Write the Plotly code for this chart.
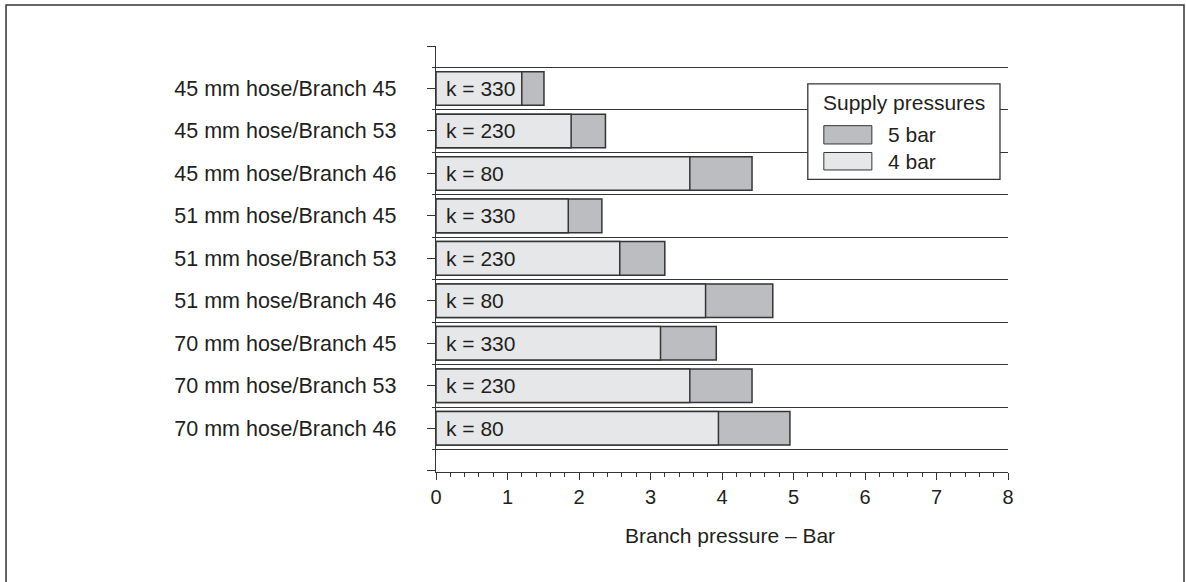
import plotly.graph_objects as go

categories = [
    "45 mm hose/Branch 45",
    "45 mm hose/Branch 53",
    "45 mm hose/Branch 46",
    "51 mm hose/Branch 45",
    "51 mm hose/Branch 53",
    "51 mm hose/Branch 46",
    "70 mm hose/Branch 45",
    "70 mm hose/Branch 53",
    "70 mm hose/Branch 46",
]
k_labels = ["k = 330", "k = 230", "k = 80", "k = 330", "k = 230", "k = 80",
            "k = 330", "k = 230", "k = 80"]
bar4 = [1.20, 1.89, 3.55, 1.85, 2.57, 3.77, 3.14, 3.55, 3.95]
bar5 = [1.51, 2.37, 4.42, 2.32, 3.20, 4.71, 3.92, 4.42, 4.95]
x_ticks = [0, 1, 2, 3, 4, 5, 6, 7, 8]
series_names = ["5 bar", "4 bar"]
x_title = "Branch pressure – Bar"

FONT = "Liberation Sans, Arial, sans-serif"
FS = 21
TXT = "#231f20"
EDGE = "#353535"
C5 = "#bcbdc0"
C4 = "#e6e7e8"

pos = list(range(len(categories)))

fig = go.Figure()
fig.add_trace(go.Bar(
    y=pos, x=bar5, orientation="h", name=series_names[0],
    marker=dict(color=C5, line=dict(color=EDGE, width=1.5)),
    width=0.79, showlegend=False, hoverinfo="x+name",
))
fig.add_trace(go.Bar(
    y=pos, x=bar4, orientation="h", name=series_names[1],
    marker=dict(color=C4, line=dict(color=EDGE, width=1.5)),
    width=0.79, showlegend=False, hoverinfo="x+name",
))

annotations = []
for p, lab in zip(pos, k_labels):
    annotations.append(dict(
        x=0, y=p, xref="x", yref="y", text=lab, showarrow=False,
        xanchor="left", yanchor="middle", xshift=8,
        font=dict(family=FONT, size=FS, color=TXT),
    ))

# legend (drawn manually to reproduce the wide swatches)
L, R, T, B = 0.650, 0.986, 0.911, 0.687
shapes = [
    dict(type="rect", xref="paper", yref="paper", x0=L, x1=R, y0=B, y1=T,
         line=dict(color=EDGE, width=1.3), fillcolor="white", layer="above"),
    dict(type="rect", xref="paper", yref="paper", x0=0.678, x1=0.762,
         y0=0.77, y1=0.813, line=dict(color=EDGE, width=1), fillcolor=C5,
         layer="above"),
    dict(type="rect", xref="paper", yref="paper", x0=0.678, x1=0.762,
         y0=0.709, y1=0.750, line=dict(color=EDGE, width=1), fillcolor=C4,
         layer="above"),
    # outer frame
    dict(type="rect", xref="paper", yref="paper", x0=-0.7517, x1=1.3077,
         y0=-0.30, y1=1.0962, line=dict(color="#333333", width=1.5),
         fillcolor="rgba(0,0,0,0)", layer="above"),
]
annotations += [
    dict(x=0.818, y=0.868, xref="paper", yref="paper", text="Supply pressures",
         showarrow=False, xanchor="center", yanchor="middle",
         font=dict(family=FONT, size=FS, color=TXT)),
    dict(x=0.787, y=0.792, xref="paper", yref="paper", text=series_names[0],
         showarrow=False, xanchor="left", yanchor="middle",
         font=dict(family=FONT, size=FS, color=TXT)),
    dict(x=0.787, y=0.728, xref="paper", yref="paper", text=series_names[1],
         showarrow=False, xanchor="left", yanchor="middle",
         font=dict(family=FONT, size=FS, color=TXT)),
    dict(x=0.514, y=-0.150, xref="paper", yref="paper", text=x_title,
         showarrow=False, xanchor="center", yanchor="middle",
         font=dict(family=FONT, size=FS, color=TXT)),
]

fig.update_layout(
    width=1186, height=582,
    margin=dict(l=436, r=178, t=46, b=110),
    paper_bgcolor="white", plot_bgcolor="white",
    barmode="overlay", bargap=0.21,
    font=dict(family=FONT, size=FS, color=TXT),
    shapes=shapes, annotations=annotations,
    showlegend=False,
)
fig.update_xaxes(
    range=[0, 8], tickvals=x_ticks, ticktext=[str(v) for v in x_ticks],
    showline=True, linecolor=EDGE, linewidth=1.3,
    ticks="outside", ticklen=7, tickwidth=1.3, tickcolor=EDGE,
    minor=dict(dtick=0.2, ticks="outside", ticklen=4, tickwidth=1, tickcolor=EDGE),
    showgrid=False, zeroline=False,
    tickfont=dict(family=FONT, size=20, color=TXT),
)
fig.update_yaxes(
    range=[9.03, -1.0],
    tickvals=[-1] + pos + [9], ticktext=[""] + categories + [""],
    showline=True, linecolor=EDGE, linewidth=1.3,
    ticks="outside", ticklen=8, tickwidth=1.3, tickcolor=EDGE,
    minor=dict(tick0=0.5, dtick=1, ticks="outside", ticklen=3, tickwidth=1.3,
               tickcolor=EDGE, showgrid=True, gridcolor=EDGE, gridwidth=1.3),
    showgrid=False, zeroline=False,
    ticklabelstandoff=26,
    tickfont=dict(family=FONT, size=21.5, color=TXT),
)

fig.write_html("out.html",
               config={"displayModeBar": False},
               post_script="document.body.style.margin='0';document.body.style.overflow='hidden';")
